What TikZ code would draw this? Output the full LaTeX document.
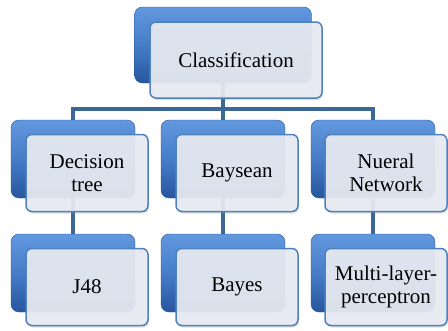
\documentclass[tikz,border=0pt]{standalone}
\usepackage{fontspec}
\setmainfont{Liberation Serif}
\usetikzlibrary{positioning, backgrounds, shadows}
\definecolor{linkblue}{RGB}{60,104,152}
\definecolor{backtop}{RGB}{98,152,222}
\definecolor{backmid}{RGB}{70,125,200}
\definecolor{backbottom}{RGB}{38,86,158}
\definecolor{frontfill}{RGB}{233,236,243}
\definecolor{frontedge}{RGB}{79,129,189}

\begin{document}
\begin{tikzpicture}[x=1pt, y=-1pt,
    backbox/.style={rectangle, draw=backbottom, top color=backtop, bottom color=backbottom, middle color=backmid, rounded corners=8pt, minimum width=124pt, minimum height=78pt},
    frontbox/.style={rectangle, draw=frontedge, line width=1.5pt, fill=frontfill, fill opacity=0.92, text opacity=1, rounded corners=6pt, minimum width=122pt, minimum height=77pt, align=center, font=\fontsize{21}{23}\selectfont, drop shadow={opacity=0.25, shadow xshift=1pt, shadow yshift=-2pt}},
    link/.style={linkblue, line width=4pt}
]
    \useasboundingbox (0,0) rectangle (448,330);

    % Root
    \node[backbox, minimum width=177pt, minimum height=76pt] (clsB) at (223,45) {};
    \node[frontbox, minimum width=172pt, minimum height=76pt] (cls) at (236,60) {Classification};

    % Methods
    \node[backbox] (treeB) at (73,159) {};
    \node[frontbox] (tree) at (87,173) {Decision\\tree};
    \node[backbox] (bayesianB) at (223,159) {};
    \node[frontbox] (bayesian) at (237,173) {Baysean};
    \node[backbox] (neuralB) at (373,159) {};
    \node[frontbox] (neural) at (386,173) {Nueral\\Network};

    % Algorithms
    \node[backbox] (jB) at (73,273) {};
    \node[frontbox] (j) at (87,287) {J48};
    \node[backbox] (bayesB) at (223,273) {};
    \node[frontbox] (bayes) at (237,287) {Bayes};
    \node[backbox] (mlpB) at (373,273) {};
    \node[frontbox] (mlp) at (386,287) {Multi-layer-\\perceptron};

    % Connectors
    \coordinate (bus) at (0,109);
    \begin{scope}[on background layer]
        \draw[link] (clsB.center) -- (clsB.center |- bus) -| (treeB.center);
        \draw[link] (clsB.center |- bus) -| (neuralB.center);
        \draw[link] (clsB.center) -- (bayesianB.center);
        \draw[link] (treeB.center) -- (jB.center);
        \draw[link] (bayesianB.center) -- (bayesB.center);
        \draw[link] (neuralB.center) -- (mlpB.center);
    \end{scope}
\end{tikzpicture}
\end{document}
